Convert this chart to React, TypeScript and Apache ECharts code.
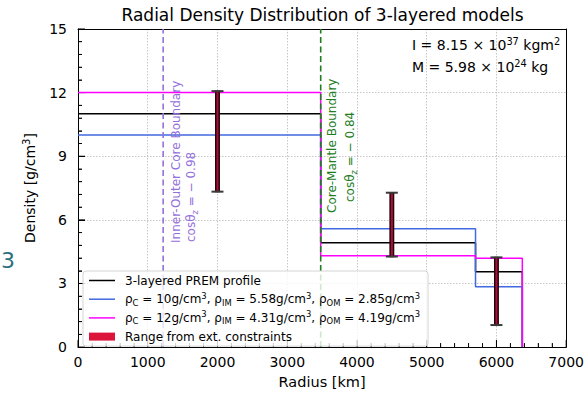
import React, { useEffect, useRef } from 'react';
import * as echarts from 'echarts';

const FONT = 'DejaVu Sans';

// Layer boundaries (km) and layer densities (g/cm^3): core, inner mantle, outer mantle
const radiusBounds = [0, 3480, 5700, 6371];
const premDensity = [11.0, 4.92, 3.55];
const modelADensity = [10.0, 5.58, 2.85];
const modelBDensity = [12.0, 4.31, 4.19];

// Ranges from external constraints
const errRadius = [2000, 4500, 6000];
const errLow = [7.33, 4.27, 1.04];
const errHigh = [12.07, 7.28, 4.23];

// Boundaries (km)
const innerOuterBoundary = 1221;
const coreMantleBoundary = 3480;

// Axes
const xMin = 0, xMax = 7000, xInterval = 1000;
const yMin = 0, yMax = 15, yInterval = 3;
const minorSplit = 5;

const seriesNames = [
  '3-layered PREM profile',
  'ρC = 10g/cm³, ρIM = 5.58g/cm³, ρOM = 2.85g/cm³',
  'ρC = 12g/cm³, ρIM = 4.31g/cm³, ρOM = 4.19g/cm³',
  'Range from ext. constraints',
];
const richLabels: Record<string, string> = {
  [seriesNames[0]]: '3-layered PREM profile',
  [seriesNames[1]]: 'ρ{sub|C}{n| = 10g/cm}{sup|3}{n|, ρ}{sub|IM}{n| = 5.58g/cm}{sup|3}{n|, ρ}{sub|OM}{n| = 2.85g/cm}{sup|3}',
  [seriesNames[2]]: 'ρ{sub|C}{n| = 12g/cm}{sup|3}{n|, ρ}{sub|IM}{n| = 4.31g/cm}{sup|3}{n|, ρ}{sub|OM}{n| = 4.19g/cm}{sup|3}',
  [seriesNames[3]]: 'Range from ext. constraints',
};

function stepData(d: number[]) {
  const pts: number[][] = [];
  for (let i = 0; i < d.length; i++) {
    pts.push([radiusBounds[i], d[i]]);
    pts.push([radiusBounds[i + 1], d[i]]);
  }
  pts.push([radiusBounds[radiusBounds.length - 1], 0]);
  return pts;
}

// tick positions: [value, isMajor]
function tickList(min: number, max: number, interval: number) {
  const out: number[][] = [];
  const step = interval / minorSplit;
  const n = Math.round((max - min) / step);
  for (let i = 0; i <= n; i++) {
    const v = +(min + i * step).toFixed(6);
    out.push([v, i % minorSplit === 0 ? 1 : 0]);
  }
  return out;
}

const richStyles = (size: number, color: string) => ({
  n: { fontSize: size, fontFamily: FONT, color, fill: color, lineHeight: size + 3 },
  sub: { fontSize: size * 0.7, fontFamily: FONT, color, fill: color, lineHeight: size * 0.7, verticalAlign: 'bottom' },
  sup: { fontSize: size * 0.7, fontFamily: FONT, color, fill: color, lineHeight: size * 0.75, verticalAlign: 'top' },
});

const lineIcon = 'path://M0,0 L26,0 L26,1.5 L0,1.5 Z';

export default function App() {
  const ref = useRef<HTMLDivElement>(null);
  useEffect(() => {
    if (!ref.current) return;
    const chart = echarts.init(ref.current, undefined, { renderer: 'svg' });
    const errData = errRadius.map((r, i) => [r, errLow[i], errHigh[i]]);
    const axisCommon = {
      axisLine: { show: true, onZero: false, lineStyle: { color: '#000', width: 1 } },
      axisTick: { show: true, inside: true, length: 7, lineStyle: { color: '#000', width: 1 } },
      minorTick: { show: true, splitNumber: minorSplit, length: 4, lineStyle: { color: '#000', width: 0.8 } },
      splitLine: { show: true, showMinLine: false, showMaxLine: false, lineStyle: { color: '#b8b8b8', type: [1.5, 1.5], width: 0.8 } },
      axisLabel: { fontFamily: FONT, fontSize: 14, color: '#000', formatter: (v: number) => String(v) },
    };
    const frameAxis = {
      type: 'value',
      axisLine: { show: true, onZero: false, lineStyle: { color: '#000', width: 1 } },
      axisTick: { show: false }, minorTick: { show: false }, axisLabel: { show: false }, splitLine: { show: false },
    };
    const purple = '#9370db';
    const green = '#1e7d1e';
    const MAJOR = 7, MINOR = 4;
    const option: any = {
      animation: false,
      backgroundColor: '#fff',
      title: {
        text: 'Radial Density Distribution of 3-layered models',
        left: 322.5,
        textAlign: 'center',
        top: 6,
        padding: 0,
        textStyle: { fontFamily: FONT, fontSize: 17, fontWeight: 'normal', color: '#000' },
      },
      grid: { left: 78, top: 29, width: 489, height: 324, show: false },
      xAxis: [
        {
          type: 'value', min: xMin, max: xMax, interval: xInterval, position: 'bottom',
          name: 'Radius [km]', nameLocation: 'middle', nameGap: 22,
          nameTextStyle: { fontFamily: FONT, fontSize: 14.5, color: '#000' },
          ...axisCommon,
          axisLabel: { ...axisCommon.axisLabel, margin: 8 },
        },
        { ...frameAxis, min: xMin, max: xMax, interval: xInterval, position: 'top' },
      ],
      yAxis: [
        {
          type: 'value', min: yMin, max: yMax, interval: yInterval, position: 'left',
          name: 'Density [g/cm{sup|3}]', nameLocation: 'middle', nameGap: 34, nameRotate: 90,
          nameTextStyle: { fontFamily: FONT, fontSize: 14, color: '#000', rich: { sup: { fontSize: 10, fontFamily: FONT, color: '#000', verticalAlign: 'top', lineHeight: 10 } }, lineHeight: 17 },
          ...axisCommon,
          axisLabel: { ...axisCommon.axisLabel, margin: 11 },
        },
        { ...frameAxis, min: yMin, max: yMax, interval: yInterval, position: 'right' },
      ],
      legend: {
        orient: 'vertical', left: 83, top: 271, z: 20,
        padding: [2, 8, 2, 6], itemWidth: 26, itemHeight: 10, itemGap: 3.7,
        backgroundColor: 'rgba(255,255,255,0.8)', borderColor: '#d4d4d4', borderWidth: 1, borderRadius: 3,
        selectedMode: false,
        textStyle: { fontFamily: FONT, fontSize: 12, color: '#000', lineHeight: 15, padding: [0, 0, 0, 5], rich: richStyles(12, '#000') },
        formatter: (name: string) => richLabels[name] || name,
        data: [
          { name: seriesNames[0], icon: lineIcon },
          { name: seriesNames[1], icon: lineIcon },
          { name: seriesNames[2], icon: lineIcon },
          { name: seriesNames[3], icon: 'path://M0,0 L26,0 L26,8 L0,8 Z' },
        ],
      },
      series: [
        { name: seriesNames[0], type: 'line', data: stepData(premDensity), symbol: 'none', lineStyle: { color: '#000', width: 1.5 }, itemStyle: { color: '#000' }, z: 3 },
        { name: seriesNames[1], type: 'line', data: stepData(modelADensity), symbol: 'none', lineStyle: { color: '#4169e1', width: 1.5 }, itemStyle: { color: '#4169e1' }, z: 4 },
        { name: seriesNames[2], type: 'line', data: stepData(modelBDensity), symbol: 'none', lineStyle: { color: '#ff00ff', width: 1.5 }, itemStyle: { color: '#ff00ff' }, z: 5 },
        {
          name: 'Inner-Outer Core Boundary', type: 'line', symbol: 'none', z: 6,
          data: [[innerOuterBoundary, yMin], [innerOuterBoundary, yMax]],
          lineStyle: { color: purple, width: 1.6, type: [6, 3.5] },
        },
        {
          name: 'Core-Mantle Boundary', type: 'line', symbol: 'none', z: 6,
          data: [[coreMantleBoundary, yMin], [coreMantleBoundary, yMax]],
          lineStyle: { color: green, width: 1.6, type: [6, 3.5] },
        },
        {
          name: seriesNames[3], type: 'custom', z: 7,
          itemStyle: { color: '#dc143c' },
          encode: { x: 0, y: [1, 2] },
          data: errData,
          renderItem: (params: any, api: any) => {
            const x = api.value(0);
            const pLo = api.coord([x, api.value(1)]);
            const pHi = api.coord([x, api.value(2)]);
            const w = 3.5, cap = 12;
            return {
              type: 'group',
              children: [
                { type: 'rect', shape: { x: pHi[0] - w / 2, y: pHi[1], width: w, height: pLo[1] - pHi[1] }, style: { fill: '#a8103a', stroke: '#1a0006', lineWidth: 1.4 } },
                { type: 'line', shape: { x1: pHi[0] - cap / 2, y1: pHi[1], x2: pHi[0] + cap / 2, y2: pHi[1] }, style: { stroke: '#3a3a3a', lineWidth: 2 } },
                { type: 'line', shape: { x1: pLo[0] - cap / 2, y1: pLo[1], x2: pLo[0] + cap / 2, y2: pLo[1] }, style: { stroke: '#3a3a3a', lineWidth: 2 } },
              ],
            };
          },
        },
        {
          name: 'x ticks', type: 'custom', z: 2, silent: true,
          encode: { x: 0 },
          data: tickList(xMin, xMax, xInterval),
          renderItem: (params: any, api: any) => {
            const p = api.coord([api.value(0), yMin]);
            const len = api.value(1) ? MAJOR : MINOR;
            return { type: 'line', shape: { x1: p[0], y1: p[1], x2: p[0], y2: p[1] - len }, style: { stroke: '#000', lineWidth: api.value(1) ? 1 : 0.8 } };
          },
        },
        {
          name: 'y ticks', type: 'custom', z: 2, silent: true,
          encode: { y: 0 },
          data: tickList(yMin, yMax, yInterval),
          renderItem: (params: any, api: any) => {
            const p = api.coord([xMin, api.value(0)]);
            const len = api.value(1) ? MAJOR : MINOR;
            return { type: 'line', shape: { x1: p[0], y1: p[1], x2: p[0] + len, y2: p[1] }, style: { stroke: '#000', lineWidth: api.value(1) ? 1 : 0.8 } };
          },
        },
      ],
      graphic: [
        { type: 'text', x: 1, y: 260, style: { text: '3', fontFamily: FONT, fontSize: 22, fill: '#2d6f80', textVerticalAlign: 'middle' } },
        { type: 'text', x: 176, y: 243, rotation: Math.PI / 2, z: 10, style: { text: '{n|Inner-Outer Core Boundary}', fill: purple, rich: richStyles(12, purple), textAlign: 'left', textVerticalAlign: 'middle' } },
        { type: 'text', x: 191, y: 242, rotation: Math.PI / 2, z: 10, style: { text: '{n|cosθ}{sub|z}{n| = − 0.98}', fill: purple, rich: richStyles(12, purple), textAlign: 'left', textVerticalAlign: 'middle' } },
        { type: 'text', x: 332, y: 213, rotation: Math.PI / 2, z: 10, style: { text: '{n|Core-Mantle Boundary}', fill: green, rich: richStyles(12, green), textAlign: 'left', textVerticalAlign: 'middle' } },
        { type: 'text', x: 350, y: 202, rotation: Math.PI / 2, z: 10, style: { text: '{n|cosθ}{sub|z}{n| = − 0.84}', fill: green, rich: richStyles(12, green), textAlign: 'left', textVerticalAlign: 'middle' } },
        { type: 'text', x: 412, y: 45, z: 10, style: { text: '{n|I = 8.15 × 10}{sup|37}{n| kgm}{sup|2}', fill: '#000', rich: richStyles(14, '#000'), textAlign: 'left', textVerticalAlign: 'middle' } },
        { type: 'text', x: 412, y: 67, z: 10, style: { text: '{n|M = 5.98 × 10}{sup|24}{n| kg}', fill: '#000', rich: richStyles(14, '#000'), textAlign: 'left', textVerticalAlign: 'middle' } },
      ],
    };
    chart.setOption(option);
    return () => chart.dispose();
  }, []);
  return <div ref={ref} style={{ position: 'fixed', left: 0, top: 0, width: 587, height: 394 }} />;
}
